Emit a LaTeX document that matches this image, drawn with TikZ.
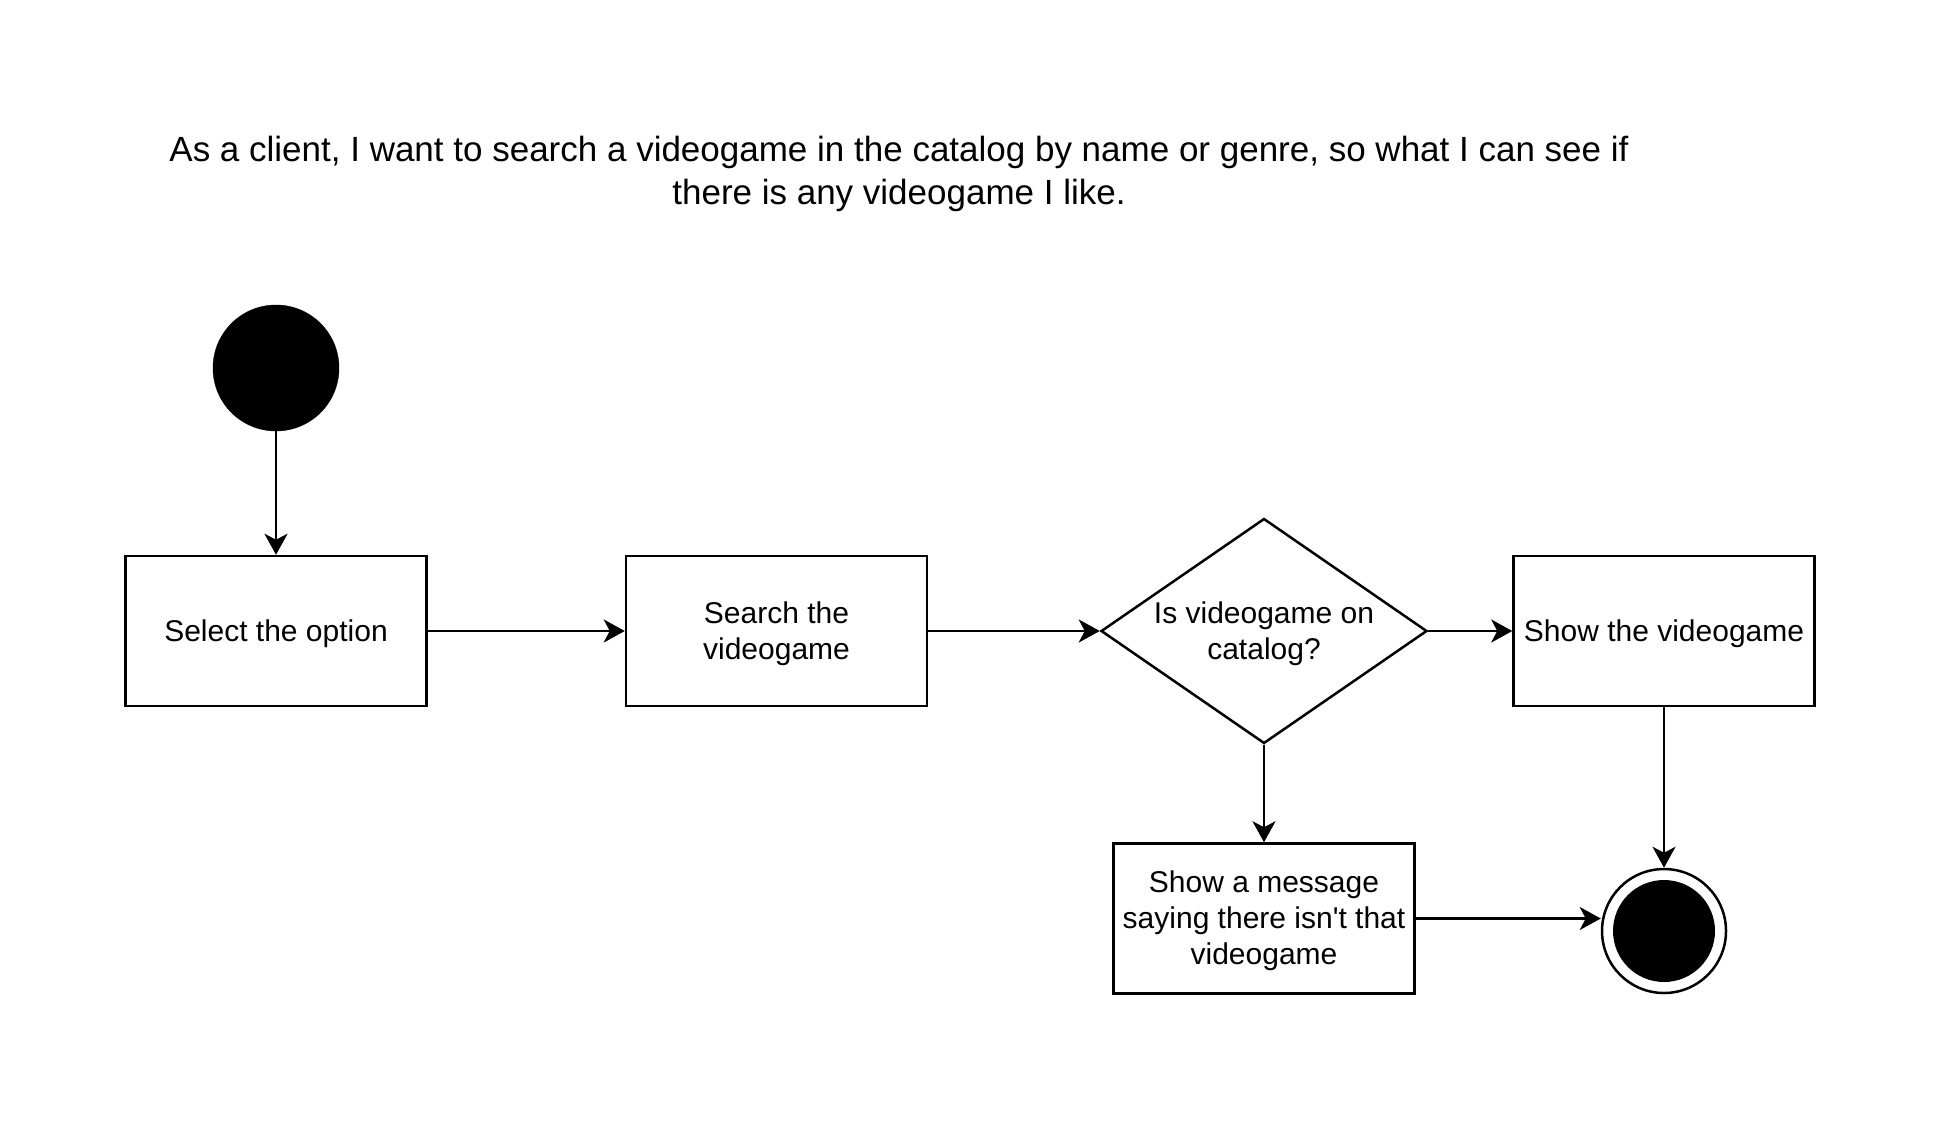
\documentclass[tikz,border=0pt]{standalone}
\usepackage{fontspec}
\setmainfont{Liberation Sans}
\newfontfamily\nolig{Liberation Sans}
\usetikzlibrary{shapes.geometric,arrows.meta}
\begin{document}
\begin{tikzpicture}[x=1pt,y=-1pt,
  txt/.style={font=\fontsize{30}{36}\selectfont,align=center,text depth=1pt},
  box/.style={txt,draw,line width=2.5pt,minimum width=301pt,minimum height=150pt,inner sep=0pt},
  dec/.style={txt,draw,diamond,line width=2.5pt,minimum width=326pt,minimum height=225pt,inner sep=0pt,aspect=1.45},
  startc/.style={circle,fill=black,draw=black,minimum size=126pt,inner sep=0pt},
  endc/.style={circle,draw=black,fill=white,line width=2.5pt,minimum size=124pt,inner sep=0pt},
  arr/.style={line width=2.5pt,-{Stealth[length=21pt,width=23pt,inset=6pt]}}
]
\fill[white] (0,0) rectangle (1940,1120);
\useasboundingbox (0,0) rectangle (1940,1120);

\node[font=\fontsize{35}{43}\selectfont,align=center] (title) at (899,174)
  {As a client, I want to search a videogame in the catalog by name or genre, so what I can see if\\there is any videogame I like.};

\node[startc] (start) at (276,368) {};
\node[box] (b1) at (276,631) {Select the option};
\node[box] (b2) at (776.5,631) {Search the\\videogame};
\node[dec] (d) at (1264,631) {Is videogame on\\catalog?};
\node[box] (b3) at (1664,631) {Show the videogame};
\node[box] (b4) at (1264,918.5) {Show a message\\saying there isn{\nolig'}t that\\videogame};
\node[endc] (end) at (1664,931) {};
\fill[black] (end.center) circle (51);

\draw[arr] (start) -- (b1);
\draw[arr] (b1) -- (b2);
\draw[arr] (b2) -- (d);
\draw[arr] (d) -- (b3);
\draw[arr] (d) -- (b4);
\draw[arr] (b3) -- (end);
\draw[arr] (b4.east) -- (b4.east -| end.west);
\end{tikzpicture}
\end{document}
